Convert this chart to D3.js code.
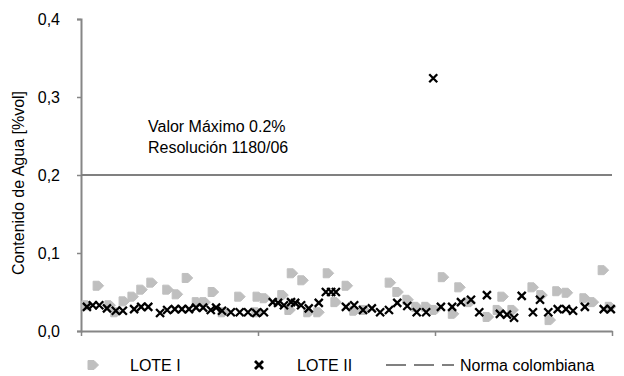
<!DOCTYPE html>
<html>
<head>
<meta charset="utf-8">
<script src="https://cdn.jsdelivr.net/npm/d3@7"></script>
<style>
  html, body { margin: 0; padding: 0; background: #fff; }
  svg text { font-family: "Liberation Sans", Arial, sans-serif; fill: #000; }
</style>
</head>
<body>
<svg id="chart" width="624" height="376"></svg>
<script>
// Water content per sample, [sample number, %vol]
const loteI = [
  [1.0, 0.033], [2.9, 0.058], [4.9, 0.033], [5.9, 0.024], [7.3, 0.038],
  [8.8, 0.044], [10.3, 0.053], [12.0, 0.062], [14.7, 0.053], [16.3, 0.047],
  [18.0, 0.068], [19.7, 0.037], [21.0, 0.037], [22.4, 0.050], [24.1, 0.024],
  [26.9, 0.044], [29.8, 0.024], [30.0, 0.044], [31.2, 0.042], [34.2, 0.046],
  [35.4, 0.027], [35.8, 0.074], [37.6, 0.065], [38.6, 0.024], [40.3, 0.024],
  [41.9, 0.074], [43.2, 0.037], [45.1, 0.058], [46.4, 0.026], [48.0, 0.027],
  [52.4, 0.062], [53.7, 0.050], [55.4, 0.040], [56.9, 0.031], [58.6, 0.031],
  [60.0, 0.027], [61.4, 0.069], [63.1, 0.022], [64.2, 0.056], [65.9, 0.037],
  [69.0, 0.018], [70.7, 0.027], [71.5, 0.044], [73.2, 0.027], [76.6, 0.056],
  [78.1, 0.046], [79.5, 0.014], [80.8, 0.051], [82.4, 0.049], [85.4, 0.042],
  [86.8, 0.037], [88.5, 0.078], [89.7, 0.031]
];

const loteII = [
  [1.0, 0.031], [2.0, 0.033], [3.1, 0.033], [4.4, 0.029], [5.9, 0.026],
  [7.1, 0.026], [9.0, 0.028], [10.2, 0.031], [11.4, 0.031], [13.4, 0.023],
  [14.6, 0.027], [15.9, 0.028], [17.1, 0.028], [18.3, 0.028], [19.5, 0.030],
  [20.7, 0.030], [22.0, 0.027], [22.9, 0.030], [23.9, 0.026], [25.4, 0.024],
  [26.9, 0.024], [28.3, 0.024], [29.7, 0.023], [31.0, 0.024], [32.5, 0.037],
  [33.4, 0.036], [34.4, 0.033], [35.6, 0.037], [36.3, 0.036], [37.3, 0.033],
  [38.6, 0.029], [40.3, 0.036], [41.5, 0.050], [42.4, 0.050], [43.2, 0.050],
  [44.9, 0.031], [46.3, 0.033], [47.8, 0.027], [49.3, 0.029], [50.7, 0.024],
  [52.2, 0.027], [53.6, 0.036], [55.3, 0.032], [56.9, 0.024], [58.5, 0.024],
  [59.7, 0.324], [61.0, 0.031], [62.9, 0.031], [64.4, 0.037], [66.1, 0.040],
  [67.5, 0.024], [68.8, 0.046], [71.0, 0.022], [72.2, 0.021], [73.4, 0.017],
  [74.7, 0.045], [76.6, 0.024], [77.8, 0.040], [79.2, 0.024], [80.8, 0.028],
  [82.2, 0.028], [83.4, 0.026], [85.4, 0.031], [88.6, 0.028], [89.8, 0.028]
];

// Colombian standard limit
const normaColombiana = 0.2;

const yTicks = [0, 0.1, 0.2, 0.3, 0.4];
const xTicks = [0, 30, 60, 90];
const legendLabels = ["LOTE I", "LOTE II", "Norma colombiana"];
const yTitle = "Contenido de Agua [%vol]";
const noteLines = ["Valor Máximo 0.2%", "Resolución 1180/06"];

const svg = d3.select("#chart");
const plot = { left: 81, right: 612, top: 19, bottom: 331 };
const fontSize = 16;

const x = d3.scaleLinear().domain([0, 90]).range([plot.left, plot.right]);
const y = d3.scaleLinear().domain([0, 0.4]).range([plot.bottom, plot.top]);

const axisColor = "#868686";
const fmt = v => d3.format(".1f")(v).replace(".", ",");

// Y axis
const yAxis = svg.append("g")
  .attr("transform", `translate(${plot.left},0)`)
  .call(d3.axisLeft(y).tickValues(yTicks).tickFormat(fmt).tickSize(4).tickPadding(17));
yAxis.select(".domain").attr("stroke", axisColor).attr("stroke-width", 2);
yAxis.selectAll(".tick line").attr("stroke", axisColor).attr("stroke-width", 1.5);
yAxis.selectAll(".tick text")
  .attr("font-size", fontSize)
  .attr("font-family", "Liberation Sans, Arial, sans-serif").attr("fill", "#000");

// X axis (ticks only, no labels)
const xAxis = svg.append("g")
  .attr("transform", `translate(0,${plot.bottom})`)
  .call(d3.axisBottom(x).tickValues(xTicks).tickFormat("").tickSize(5).tickSizeOuter(0));
xAxis.select(".domain").attr("stroke", axisColor).attr("stroke-width", 2);
xAxis.selectAll(".tick line").attr("stroke", axisColor).attr("stroke-width", 1.5);

// Y title
svg.append("text")
  .attr("transform", "translate(24,183) rotate(-90)")
  .attr("text-anchor", "middle")
  .attr("font-size", fontSize)
  .text(yTitle);

// Standard limit line
svg.append("line")
  .attr("x1", x(0)).attr("x2", x(90))
  .attr("y1", y(normaColombiana)).attr("y2", y(normaColombiana))
  .attr("stroke", "#808080").attr("stroke-width", 2);

// Annotation
svg.append("g").selectAll("text").data(noteLines).join("text")
  .attr("x", 148).attr("y", (d, i) => 132 + i * 21)
  .attr("font-size", fontSize)
  .text(d => d);

// Marker shapes
const pentagon = "M-5,-4.5L1,-4.5L5.5,0L1,4.5L-5,4.5Z";
const cross = "M-4,-4L4,4M-4,4L4,-4";

// LOTE I
svg.append("g").selectAll("path").data(loteI).join("path")
  .attr("transform", d => `translate(${x(d[0])},${y(d[1])})`)
  .attr("d", pentagon)
  .attr("fill", "#bfbfbf").attr("stroke", "#bfbfbf").attr("stroke-width", 1)
  .attr("stroke-linejoin", "round");

// LOTE II
svg.append("g").selectAll("path").data(loteII).join("path")
  .attr("transform", d => `translate(${x(d[0])},${y(d[1])})`)
  .attr("d", cross)
  .attr("fill", "none").attr("stroke", "#000").attr("stroke-width", 2.3);

// Legend
const ly = 365;
const legend = svg.append("g");
legend.append("path")
  .attr("transform", `translate(93,${ly})`)
  .attr("d", pentagon).attr("fill", "#bfbfbf").attr("stroke", "#bfbfbf")
  .attr("stroke-linejoin", "round");
legend.append("path")
  .attr("transform", `translate(259,${ly})`)
  .attr("d", cross).attr("fill", "none").attr("stroke", "#000").attr("stroke-width", 2.8);
legend.append("line")
  .attr("x1", 386).attr("x2", 454).attr("y1", ly).attr("y2", ly)
  .attr("stroke", "#808080").attr("stroke-width", 2)
  .attr("stroke-dasharray", "20,8");
const lx = [130, 297, 460];
legend.selectAll("text").data(legendLabels).join("text")
  .attr("x", (d, i) => lx[i]).attr("y", ly + 6)
  .attr("font-size", fontSize)
  .text(d => d);
</script>
</body>
</html>
